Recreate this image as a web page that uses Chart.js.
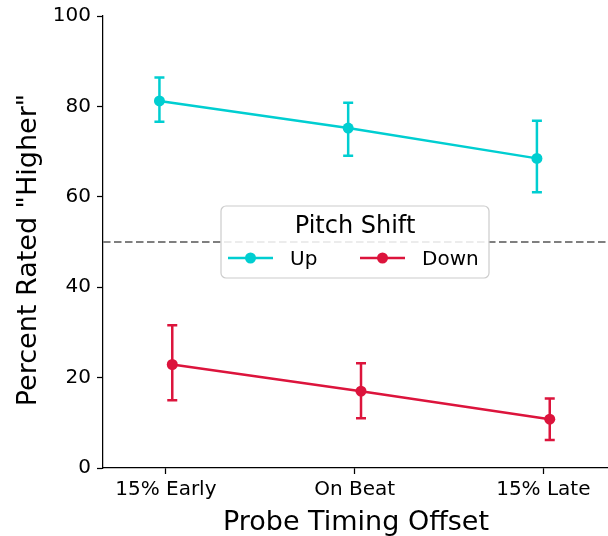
<!DOCTYPE html>
<html>
<head>
<meta charset="utf-8">
<script src="https://cdn.jsdelivr.net/npm/chart.js@4/dist/chart.umd.min.js"></script>
<style>
  html, body { margin: 0; padding: 0; background: #fff; overflow: hidden; }
  #wrap { width: 613px; height: 536px; }
  canvas { display: block; }
</style>
</head>
<body>
<div id="wrap"><canvas id="chart" width="613" height="536"></canvas></div>
<script>
const categories = ['15% Early', 'On Beat', '15% Late'];
const seriesNames = ['Up', 'Down'];
const legendTitle = 'Pitch Shift';
const xTitle = 'Probe Timing Offset';
const yTitle = 'Percent Rated "Higher"';

const upMean = [81.2, 75.2, 68.5];
const upLow = [76.6, 69.1, 61.0];
const upHigh = [86.4, 80.8, 76.8];

const downMean = [22.9, 17.0, 10.8];
const downLow = [15.0, 11.0, 6.2];
const downHigh = [31.6, 23.2, 15.4];

const chanceLevel = 50;
const yTicks = [0, 20, 40, 60, 80, 100];
const dodge = 0.034;

const upColor = '#00CED1';
const downColor = '#DC143C';
const FONT = '"DejaVu Sans", sans-serif';

function pts(vals, off) {
    return vals.map((v, i) => ({ x: i + off, y: v }));
}

const errors = [
    { low: upLow, high: upHigh, off: -dodge, color: upColor },
    { low: downLow, high: downHigh, off: dodge, color: downColor }
];

// error bars under the markers
const errorBars = {
    id: 'errorBars',
    beforeDatasetsDraw(chart) {
        const { ctx, scales: { x, y } } = chart;
        ctx.save();
        ctx.lineWidth = 2.5;
        errors.forEach(e => {
            ctx.strokeStyle = e.color;
            e.low.forEach((lo, i) => {
                const px = x.getPixelForValue(i + e.off);
                const y0 = y.getPixelForValue(lo);
                const y1 = y.getPixelForValue(e.high[i]);
                ctx.beginPath();
                ctx.moveTo(px, y0); ctx.lineTo(px, y1);
                ctx.moveTo(px - 5, y0); ctx.lineTo(px + 5, y0);
                ctx.moveTo(px - 5, y1); ctx.lineTo(px + 5, y1);
                ctx.stroke();
            });
        });
        ctx.restore();
    }
};

// dashed reference line at chance level
const refLine = {
    id: 'refLine',
    beforeDatasetsDraw(chart) {
        const { ctx, chartArea, scales: { y } } = chart;
        const py = y.getPixelForValue(chanceLevel);
        ctx.save();
        ctx.strokeStyle = '#7f7f7f';
        ctx.lineWidth = 2;
        ctx.setLineDash([7.5, 3.5]);
        ctx.beginPath();
        ctx.moveTo(chartArea.left, py);
        ctx.lineTo(chartArea.right, py);
        ctx.stroke();
        ctx.restore();
    }
};

// legend box in the middle, axis titles
const extras = {
    id: 'extras',
    afterDraw(chart) {
        const { ctx } = chart;
        ctx.save();

        const bx = 221, by = 206, bw = 268, bh = 72, r = 5;
        ctx.fillStyle = 'rgba(255,255,255,0.85)';
        ctx.strokeStyle = '#cccccc';
        ctx.lineWidth = 1.2;
        ctx.beginPath();
        ctx.roundRect(bx, by, bw, bh, r);
        ctx.fill();
        ctx.stroke();

        ctx.fillStyle = '#000';
        ctx.font = '24px ' + FONT;
        ctx.textAlign = 'center';
        ctx.textBaseline = 'alphabetic';
        ctx.fillText(legendTitle, 355, 233);

        const entries = [
            { x: 228, color: upColor },
            { x: 360, color: downColor }
        ];
        ctx.font = '20px ' + FONT;
        ctx.textAlign = 'left';
        entries.forEach((en, i) => {
            const ly = 258;
            ctx.strokeStyle = en.color;
            ctx.lineWidth = 2.5;
            ctx.beginPath();
            ctx.moveTo(en.x, ly); ctx.lineTo(en.x + 45, ly);
            ctx.stroke();
            ctx.fillStyle = en.color;
            ctx.beginPath();
            ctx.arc(en.x + 22.5, ly, 5.5, 0, Math.PI * 2);
            ctx.fill();
            ctx.fillStyle = '#000';
            ctx.fillText(chart.data.datasets[i].label, en.x + 62, 265);
        });

        // axis titles
        ctx.font = '27px ' + FONT;
        ctx.textAlign = 'center';
        ctx.fillText(xTitle, 356, 530);
        ctx.translate(36, 250);
        ctx.rotate(-Math.PI / 2);
        ctx.fillText(yTitle, 0, 0);

        ctx.restore();
    }
};

new Chart(document.getElementById('chart'), {
    type: 'line',
    data: {
        datasets: [
            {
                label: seriesNames[0],
                data: pts(upMean, -dodge),
                borderColor: upColor,
                backgroundColor: upColor,
                borderWidth: 2.5,
                pointRadius: 5.5,
                pointBorderWidth: 0,
                tension: 0
            },
            {
                label: seriesNames[1],
                data: pts(downMean, dodge),
                borderColor: downColor,
                backgroundColor: downColor,
                borderWidth: 2.5,
                pointRadius: 5.5,
                pointBorderWidth: 0,
                tension: 0
            }
        ]
    },
    options: {
        responsive: false,
        animation: false,
        devicePixelRatio: 1,
        layout: { padding: { top: 16, left: 0, right: 0, bottom: 0 } },
        plugins: { legend: { display: false }, tooltip: { enabled: false } },
        scales: {
            x: {
                type: 'linear',
                min: -0.333,
                max: 2.34,
                afterBuildTicks: s => { s.ticks = categories.map((c, i) => ({ value: i })); },
                afterFit: s => { s.height = 68; s.paddingLeft = 0; s.paddingRight = 0; },
                ticks: {
                    color: '#000',
                    font: { family: FONT, size: 20 },
                    padding: 4,
                    maxRotation: 0,
                    autoSkip: false,
                    callback: v => categories[v]
                },
                grid: { drawOnChartArea: false, color: '#000', tickLength: 6, tickWidth: 1.25 },
                border: { color: '#000', width: 1.25 }
            },
            y: {
                min: 0,
                max: 100,
                afterBuildTicks: s => { s.ticks = yTicks.map(v => ({ value: v })); },
                afterFit: s => { s.width = 103; s.paddingTop = 0; s.paddingBottom = 0; },
                ticks: {
                    color: '#000',
                    font: { family: FONT, size: 20 },
                    padding: 6
                },
                grid: { drawOnChartArea: false, color: '#000', tickLength: 6, tickWidth: 1.25 },
                border: { color: '#000', width: 1.25 }
            }
        }
    },
    plugins: [refLine, errorBars, extras]
});
</script>
</body>
</html>
